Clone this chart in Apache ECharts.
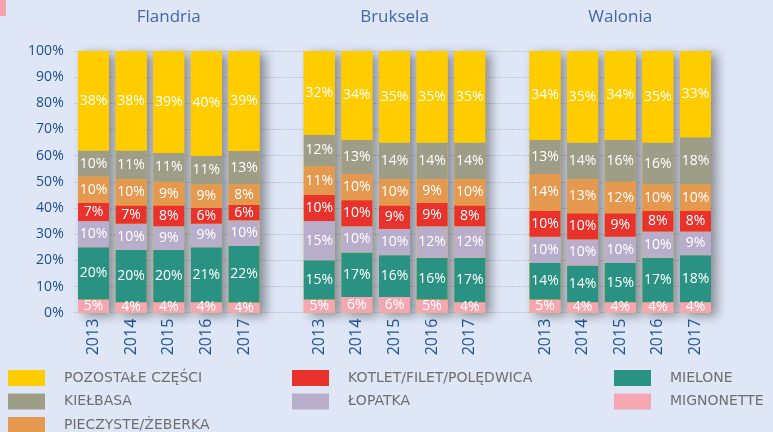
<!DOCTYPE html>
<html>
<head>
<meta charset="utf-8">
<script src="https://cdn.jsdelivr.net/npm/echarts@6/dist/echarts.min.js"></script>
<style>
  html, body { margin: 0; padding: 0; background: #dfe6f5; }
  #chart { width: 773px; height: 432px; }
</style>
</head>
<body>
<div id="chart"></div>
<script>
// Regions and years shown on the category axis
const regions = ['Flandria', 'Bruksela', 'Walonia'];
const years = ['2013', '2014', '2015', '2016', '2017'];

// Shares in % per bar: Flandria 2013-2017, Bruksela 2013-2017, Walonia 2013-2017
const mignonette = [5, 4, 4, 4, 4,   5, 6, 6, 5, 4,   5, 4, 4, 4, 4];
const mielone    = [20, 20, 20, 21, 22,   15, 17, 16, 16, 17,   14, 14, 15, 17, 18];
const lopatka    = [10, 10, 9, 9, 10,   15, 10, 10, 12, 12,   10, 10, 10, 10, 9];
const kotlet     = [7, 7, 8, 6, 6,   10, 10, 9, 9, 8,   10, 10, 9, 8, 8];
const pieczyste  = [10, 10, 9, 9, 8,   11, 10, 10, 9, 10,   14, 13, 12, 10, 10];
const kielbasa   = [10, 11, 11, 11, 13,   12, 13, 14, 14, 14,   13, 14, 16, 16, 18];
const pozostale  = [38, 38, 39, 40, 39,   32, 34, 35, 35, 35,   34, 35, 34, 35, 33];

// Y axis ticks
const yTicks = [0, 10, 20, 30, 40, 50, 60, 70, 80, 90, 100];

// Stack order, bottom to top
const layers = [
  { name: 'MIGNONETTE', values: mignonette, color: '#f4a7b0' },
  { name: 'MIELONE', values: mielone, color: '#2a9282' },
  { name: 'ŁOPATKA', values: lopatka, color: '#b8aecb' },
  { name: 'KOTLET/FILET/POLĘDWICA', values: kotlet, color: '#e8322b' },
  { name: 'PIECZYSTE/ŻEBERKA', values: pieczyste, color: '#e5994f' },
  { name: 'KIEŁBASA', values: kielbasa, color: '#9e9d87' },
  { name: 'POZOSTAŁE CZĘŚCI', values: pozostale, color: '#ffcc00' }
];

// Category keys: one per bar plus an empty slot between regions
const cats = [];
const barIndex = []; // category position -> bar index (or -1 for spacer)
regions.forEach((r, ri) => {
  if (ri > 0) { cats.push('gap' + ri); barIndex.push(-1); }
  years.forEach((y, yi) => { cats.push(r + ' ' + y); barIndex.push(ri * years.length + yi); });
});

// Totals used to scale each bar to 100%
const totals = mignonette.map((_, i) => layers.reduce((s, l) => s + l.values[i], 0));

const FONT = '"Open Sans", sans-serif';

const stackSeries = layers.map(l => ({
  name: l.name,
  type: 'bar',
  stack: 'share',
  barWidth: 31,
  barGap: '-100%',
  z: 3,
  itemStyle: { color: l.color },
  label: {
    show: true,
    position: 'inside',
    color: '#ffffff',
    fontSize: 14,
    fontFamily: FONT,
    formatter: p => l.values[barIndex[p.dataIndex]] + '%'
  },
  data: barIndex.map(bi => bi < 0 ? '-' : l.values[bi] / totals[bi] * 100)
}));

// Soft drop shadow drawn behind every bar
const shadowSeries = {
  name: 'shadow',
  type: 'bar',
  stack: 'back',
  barWidth: 31,
  barGap: '-100%',
  z: 1,
  silent: true,
  itemStyle: {
    color: '#ffcc00',
    shadowColor: 'rgba(0,0,0,0.38)',
    shadowBlur: 10,
    shadowOffsetX: 6,
    shadowOffsetY: 3
  },
  data: barIndex.map(bi => bi < 0 ? '-' : 100)
};

const legendCommon = {
  orient: 'vertical',
  itemWidth: 37,
  itemHeight: 16,
  itemGap: 7.5,
  icon: 'rect',
  selectedMode: false,
  padding: 0,
  height: 100,
  textStyle: {
    color: '#6f6f6f',
    fontSize: 14,
    fontFamily: '"DejaVu Sans", sans-serif',
    padding: [0, 0, 0, 14]
  }
};

const chart = echarts.init(document.getElementById('chart'), null, { renderer: 'canvas' });

const option = {
  backgroundColor: '#dfe6f5',
  animation: false,
  grid: { left: 74.7, right: 58.7, top: 51, bottom: 119.3 },
  xAxis: {
    type: 'category',
    data: cats,
    axisLine: { show: false },
    axisTick: { show: false },
    axisLabel: {
      interval: 0,
      rotate: 90,
      margin: 6,
      color: '#1d5597',
      fontSize: 16,
      fontFamily: FONT,
      formatter: v => v.startsWith('gap') ? '' : v.split(' ')[1]
    }
  },
  yAxis: {
    type: 'value',
    min: yTicks[0],
    max: yTicks[yTicks.length - 1],
    interval: yTicks[1] - yTicks[0],
    axisLine: { show: false },
    axisTick: { show: false },
    axisLabel: {
      margin: 11,
      color: '#1b4f91',
      fontSize: 14,
      fontFamily: FONT,
      formatter: '{value}%'
    },
    splitLine: { lineStyle: { color: '#a4a8b4', type: [1, 2], width: 1 } }
  },
  legend: [
    Object.assign({}, legendCommon, { left: 8, top: 370, data: ['POZOSTAŁE CZĘŚCI', 'KIEŁBASA', 'PIECZYSTE/ŻEBERKA'] }),
    Object.assign({}, legendCommon, { left: 292, top: 370, data: ['KOTLET/FILET/POLĘDWICA', 'ŁOPATKA'] }),
    Object.assign({}, legendCommon, { left: 614, top: 370, data: ['MIELONE', 'MIGNONETTE'] })
  ],
  graphic: [
    { type: 'rect', left: 0, top: 0, shape: { width: 6, height: 16 }, style: { fill: '#f4a3ad' } }
  ],
  series: [shadowSeries].concat(stackSeries)
};

chart.setOption(option);

// Region titles centred over the middle year of each group
const titles = regions.map((r, ri) => {
  const key = r + ' ' + years[Math.floor(years.length / 2)];
  const x = chart.convertToPixel({ xAxisIndex: 0 }, key);
  return {
    text: r,
    left: x,
    top: 9,
    padding: 0,
    textAlign: 'center',
    textStyle: { color: '#4068a8', fontSize: 17, fontWeight: 'normal', fontFamily: FONT }
  };
});
chart.setOption({ title: titles });
</script>
</body>
</html>
